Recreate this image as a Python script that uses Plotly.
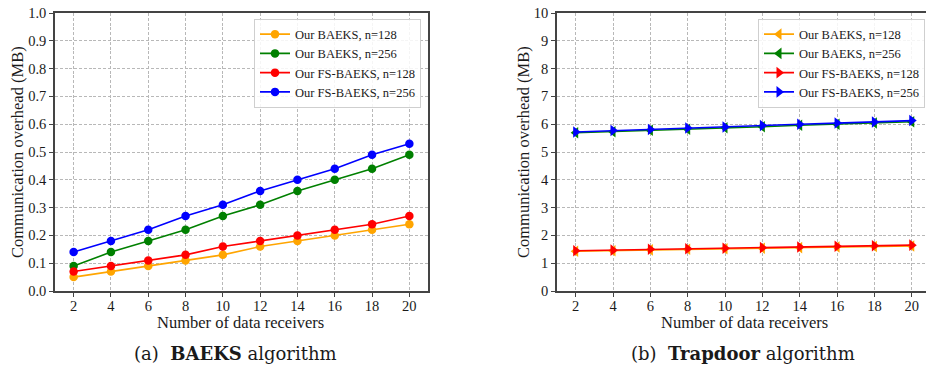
import plotly.graph_objects as go

receivers = [2, 4, 6, 8, 10, 12, 14, 16, 18, 20]

# (a) BAEKS algorithm
baeks_128 = [0.05, 0.07, 0.09, 0.11, 0.13, 0.16, 0.18, 0.20, 0.22, 0.24]
baeks_256 = [0.09, 0.14, 0.18, 0.22, 0.27, 0.31, 0.36, 0.40, 0.44, 0.49]
fs_baeks_128 = [0.07, 0.09, 0.11, 0.13, 0.16, 0.18, 0.20, 0.22, 0.24, 0.27]
fs_baeks_256 = [0.14, 0.18, 0.22, 0.27, 0.31, 0.36, 0.40, 0.44, 0.49, 0.53]

# (b) Trapdoor algorithm
td_baeks_128 = [1.43, 1.45, 1.48, 1.50, 1.52, 1.54, 1.56, 1.58, 1.60, 1.62]
td_baeks_256 = [5.69, 5.73, 5.78, 5.82, 5.87, 5.91, 5.96, 6.00, 6.04, 6.09]
td_fs_baeks_128 = [1.45, 1.47, 1.50, 1.52, 1.54, 1.56, 1.58, 1.61, 1.63, 1.65]
td_fs_baeks_256 = [5.72, 5.77, 5.81, 5.86, 5.90, 5.95, 6.00, 6.04, 6.08, 6.13]

names = ["Our BAEKS, n=128", "Our BAEKS, n=256", "Our FS-BAEKS, n=128", "Our FS-BAEKS, n=256"]
colors = ["#FFA500", "#008000", "#FF0000", "#0000FF"]
x_ticks = [2, 4, 6, 8, 10, 12, 14, 16, 18, 20]
ya_ticks = [0.0, 0.1, 0.2, 0.3, 0.4, 0.5, 0.6, 0.7, 0.8, 0.9, 1.0]
yb_ticks = [0, 1, 2, 3, 4, 5, 6, 7, 8, 9, 10]

W, H = 926, 366
FONT = "Liberation Serif"
TXT = "#1a1a1a"


def px(x):
    return x / W


def py(y):
    return 1 - y / H


fig = go.Figure()

left_series = [baeks_128, baeks_256, fs_baeks_128, fs_baeks_256]
for name, col, vals in zip(names, colors, left_series):
    fig.add_trace(go.Scatter(
        x=receivers, y=vals, name=name, mode="lines+markers",
        line=dict(color=col, width=1.6),
        marker=dict(symbol="circle", size=8.5, color=col),
        xaxis="x", yaxis="y", legend="legend"))

right_series = [td_baeks_128, td_baeks_256, td_fs_baeks_128, td_fs_baeks_256]
right_symbols = ["triangle-left", "triangle-left", "triangle-right", "triangle-right"]
for name, col, vals, sym in zip(names, colors, right_series, right_symbols):
    fig.add_trace(go.Scatter(
        x=receivers, y=vals, name=name, mode="lines+markers",
        line=dict(color=col, width=1.6),
        marker=dict(symbol=sym, size=10, color=col),
        xaxis="x2", yaxis="y2", legend="legend2"))

ax_col = "#444444"
grid = dict(showgrid=True, gridcolor="#b8b8b8", griddash="3px,1.8px", gridwidth=0.9,
            zeroline=False, ticks="outside", ticklen=4, tickcolor=ax_col,
            tickfont=dict(family=FONT, size=14.5, color=TXT),
            showline=True, linecolor=ax_col, linewidth=1.6, automargin=False)

yd = [py(291), py(13)]
leg_common = dict(bgcolor="rgba(255,255,255,0.85)", bordercolor="#cfcfcf", borderwidth=1,
                  font=dict(family=FONT, size=12.5, color=TXT),
                  itemwidth=30, tracegroupgap=0, xanchor="right", yanchor="top")
fig.update_layout(
    width=W, height=H, margin=dict(l=0, r=0, t=0, b=0, autoexpand=False),
    paper_bgcolor="white", plot_bgcolor="white",
    font=dict(family=FONT, size=14, color=TXT),
    xaxis=dict(domain=[px(55), px(428)], range=[1.0, 21.0], tickvals=x_ticks,
               mirror=True, anchor="y", ticklabelstandoff=-3, **grid),
    yaxis=dict(domain=yd, range=[0, 1.0], tickvals=ya_ticks,
               ticktext=[f"{v:.1f}" for v in ya_ticks], mirror=True, anchor="x", **grid),
    xaxis2=dict(domain=[px(557), 1.0], range=[1.0, 1.0 + (926 - 557) / 18.67], tickvals=x_ticks,
                mirror=True, anchor="y2", ticklabelstandoff=-3, **grid),
    yaxis2=dict(domain=yd, range=[0, 10], tickvals=yb_ticks, anchor="x2", **grid),
    legend=dict(x=px(421), y=py(18.5), **leg_common),
    legend2=dict(x=px(925), y=py(18.5), **leg_common),
    showlegend=True,
)

ann_font = dict(family=FONT, size=16.5, color=TXT)
cap_font = dict(family="DejaVu Serif", size=18, color=TXT)
annotations = [
    dict(text="Number of data receivers", x=px(241), y=py(322), font=ann_font),
    dict(text="Number of data receivers", x=px(744), y=py(322), font=ann_font),
    dict(text="Communication overhead (MB)", x=px(17), y=py(152), font=ann_font, textangle=-90),
    dict(text="Communication overhead (MB)", x=px(523), y=py(152), font=ann_font, textangle=-90),
    dict(text="(a)  <b>BAEKS</b> algorithm", x=px(235), y=py(353), font=cap_font),
    dict(text="(b)  <b>Trapdoor</b> algorithm", x=px(743), y=py(353), font=cap_font),
]
for a in annotations:
    a.update(xref="paper", yref="paper", showarrow=False, xanchor="center", yanchor="middle")
fig.update_layout(annotations=annotations)

# remove the default 8px page margin so the 926x366 figure fills the window exactly
fig.write_html("out.html", config={"displayModeBar": False},
               post_script="document.body.style.margin='0';")
